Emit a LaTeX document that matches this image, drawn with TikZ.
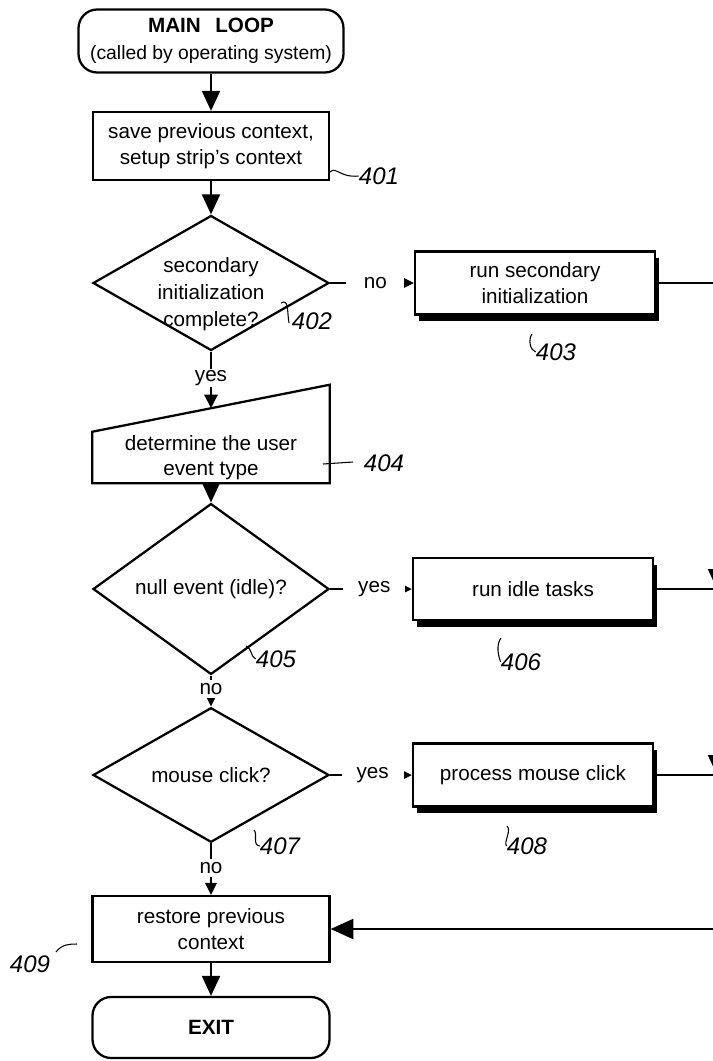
\documentclass[tikz,border=0pt]{standalone}
\usepackage{fontspec}
\setmainfont{Liberation Sans}
\usetikzlibrary{shapes.geometric,arrows.meta,calc,shadows}
\begin{document}
\begin{tikzpicture}[x=0.75pt,y=-0.75pt,
  every node/.style={font=\fontsize{15.5}{19}\selectfont, align=center, inner sep=0pt},
  size/.style 2 args={minimum width=#1*0.75pt, minimum height=#2*0.75pt},
  outline/.style={draw, line width=1.7pt},
  terminal/.style={outline, rectangle, rounded corners=14pt},
  stepbox/.style={outline, rectangle},
  shadowbox/.style={outline, rectangle, fill=white,
    drop shadow={shadow xshift=3pt, shadow yshift=-5pt, fill=black, opacity=1}},
  decision/.style={outline, diamond},
  conn/.style={line width=1.5pt},
  bigtip/.style={conn, -{Triangle[length=15pt,width=13.5pt]}},
  smalltip/.style={conn, -{Triangle[length=9pt,width=8.5pt]}},
  cut/.style={fill=white, minimum width=#1*0.75pt, minimum height=18*0.75pt},
  hand/.style={font=\fontsize{18}{18}\selectfont\itshape},
  leader/.style={line width=0.8pt}
]
\useasboundingbox (0,0) rectangle (713,1061);
\clip (0,0) rectangle (713,1061);
\fill[white] (0,0) rectangle (713,1061);

% start terminal
\node[terminal, size={265}{63}] (start) at (211,41)
  {{\bfseries MAIN\hspace{0.7em}LOOP}\\[1pt]{\fontsize{14.5}{17}\selectfont (called by operating system)}};

% 401
\node[stepbox, size={236}{68}] (b401) at (211,146)
  {save previous context,\\setup strip's context};

% 402 decision
\node[decision, size={236}{135}] (d402) at (211,283) {};
\node (t402) at (211,294) {secondary\\[1pt]initialization\\[1pt]complete?};

% 403
\node[shadowbox, size={240}{63}] (b403) at (535,283)
  {run secondary\\initialization};

% 404 manual input
\node[size={237}{51}] (b404) at (211,457.5) {determine the user\\event type};
\coordinate (b404ne) at ($(b404.north east)+(0,-47)$);
\draw[line width=1.7pt] (b404.north west) -- (b404ne) -- (b404.south east)
  -- (b404.south west) -- cycle;
\coordinate (top404) at (211,408);

% 405 decision
\node[decision, size={236}{133}] (d405) at (211,589) {null event (idle)?};

% 406
\node[shadowbox, size={240}{62}] (b406) at (533,589) {run idle tasks};

% 407 decision
\node[decision, size={236}{134}] (d407) at (211,775) {mouse click?};

% 408
\node[shadowbox, size={240}{63}] (b408) at (533,775) {process mouse click};

% 409
\node[stepbox, size={237}{66}] (b409) at (211,929) {restore previous\\context};

% exit terminal
\node[terminal, size={237}{61}] (exit) at (211,1027.5) {\bfseries EXIT};

% main flow
\draw[bigtip] (start.south) -- (b401.north);
\draw[bigtip] (b401.south) -- (d402.north);
\draw[smalltip] (d402.east) -- node[pos=0.54, cut=58] {no} (b403.west);
\draw[conn, -{Triangle[length=10pt,width=10pt]}] (d402.south) -- node[pos=0.47, cut=30] {yes} (top404);
\draw[bigtip] (b404.south) -- (d405.north);
\draw[smalltip] (d405.east) -- node[pos=0.54, cut=62] {yes} (b406.west);
\draw[smalltip] (d405.south) -- node[pos=0.43, cut=30] {no} (d407.north);
\draw[smalltip] (d407.east) -- node[pos=0.52, cut=62] {yes} (b408.west);
\draw[smalltip] (d407.south) -- node[pos=0.48, cut=30] {no} (b409.north);
\draw[bigtip] (b409.south) -- (exit.north);

% return path along the right side
\coordinate (r403) at (717,283);
\coordinate (r406) at (717,589);
\coordinate (r408) at (717,775);
\coordinate (r409) at (717,929);
\draw[conn] (b403.east) -- (r403);
\draw[bigtip] (r403) -- (r406);
\draw[conn] (b406.east) -- (r406);
\draw[bigtip] (r406) -- (r408);
\draw[conn] (b408.east) -- (r408);
\draw[conn, -{Triangle[length=17pt,width=15pt]}] (r408) -- (r409) -- (b409.east);

% reference numerals
\node[hand] (l401) at (379,176) {401};
\draw[leader] (330,172) .. controls (336,166) and (340,178) .. (l401.west);
\node[hand] (l402) at (312,321) {402};
\draw[leader] (281,303) .. controls (289,298) and (287,312) .. (289,323);
\node[hand] (l403) at (556,352) {403};
\draw[leader] (532,334) .. controls (528,340) and (530,350) .. (l403.west);
\node[hand] (l404) at (384,463) {404};
\draw[leader] (323,464) -- (353,462);
\node[hand] (l405) at (276,659) {405};
\draw[leader] (246,646) .. controls (252,648) and (250,656) .. (l405.west);
\node[hand] (l406) at (521,662) {406};
\draw[leader] (501,638) .. controls (496,645) and (498,655) .. (l406.west);
\node[hand] (l407) at (280,846) {407};
\draw[leader] (254,830) .. controls (258,834) and (252,845) .. (l407.west);
\node[hand] (l408) at (527,846) {408};
\draw[leader] (507,826) .. controls (512,830) and (503,843) .. (l408.west);
\node[hand] (l409) at (30,964) {409};
\draw[leader] (56,952) .. controls (62,944) and (70,944) .. (77,944);
\end{tikzpicture}
\end{document}
